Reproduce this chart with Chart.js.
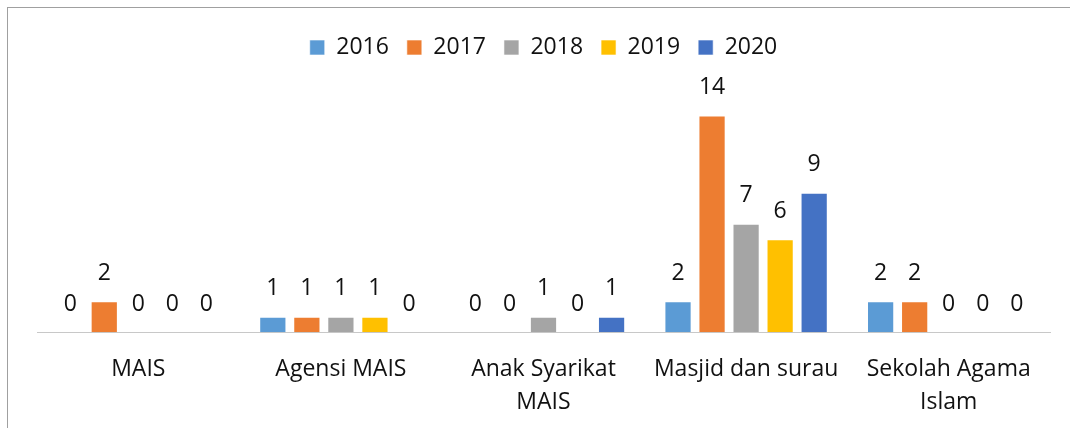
<!DOCTYPE html>
<html><head><meta charset="utf-8">
<script src="https://cdn.jsdelivr.net/npm/chart.js@4.4.1/dist/chart.umd.min.js"></script>
<style>html,body{margin:0;padding:0;background:#fff;}#wrap{width:1070px;height:428px;position:relative;}</style>
</head><body><div id="wrap"><canvas id="c" width="1070" height="428"></canvas></div>
<script>
const categories = ["MAIS", "Agensi MAIS", ["Anak Syarikat", "MAIS"], "Masjid dan surau", ["Sekolah Agama", "Islam"]];
const seriesNames = ["2016", "2017", "2018", "2019", "2020"];
const v2016 = [0, 1, 0, 2, 2];
const v2017 = [2, 1, 0, 14, 2];
const v2018 = [0, 1, 1, 7, 0];
const v2019 = [0, 1, 0, 6, 0];
const v2020 = [0, 0, 1, 9, 0];
const colors = ["#5B9BD5", "#ED7D31", "#A5A5A5", "#FFC000", "#4472C4"];
const seriesValues = [v2016, v2017, v2018, v2019, v2020];
const FONT = "'Open Sans', sans-serif";
const FS = 23;

const frame = {
  id: 'frame',
  beforeDraw(chart) {
    const ctx = chart.ctx;
    ctx.save();
    ctx.fillStyle = '#fff';
    ctx.fillRect(0, 0, chart.width, chart.height);
    ctx.strokeStyle = '#a0a0a0';
    ctx.lineWidth = 1;
    ctx.strokeRect(7.5, 7.5, 3000, 3000);
    ctx.restore();
  }
};
const labels = {
  id: 'vlabels',
  afterDatasetsDraw(chart) {
    const ctx = chart.ctx;
    ctx.save();
    ctx.font = FS + 'px ' + FONT;
    ctx.fillStyle = '#111';
    ctx.textAlign = 'center';
    ctx.textBaseline = 'middle';
    chart.data.datasets.forEach((ds, i) => {
      const meta = chart.getDatasetMeta(i);
      meta.data.forEach((el, j) => {
        ctx.fillText(String(ds.data[j]), el.x, el.y - 28);
      });
    });
    ctx.restore();
  }
};

new Chart(document.getElementById('c'), {
  type: 'bar',
  data: {
    labels: categories,
    datasets: seriesNames.map((n, i) => ({
      label: n,
      data: seriesValues[i],
      backgroundColor: colors[i],
      borderColor: 'rgba(255,255,255,0.6)',
      borderWidth: 1,
      categoryPercentage: 0.84,
      barPercentage: 0.8
    }))
  },
  options: {
    responsive: false,
    animation: false,
    layout: { padding: { left: 37, right: 20, top: 18, bottom: -4 } },
    plugins: {
      legend: {
        position: 'top',
        labels: { boxWidth: 15, boxHeight: 15, padding: 18, color: '#111', font: { family: FONT, size: FS } }
      },
      tooltip: { enabled: false }
    },
    scales: {
      y: { display: false, min: 0, max: 17 },
      x: {
        grid: { display: false },
        border: { display: true, color: '#c8c8c8', width: 1 },
        ticks: { color: '#111', padding: 13, maxRotation: 0, autoSkip: false, font: { family: FONT, size: FS, lineHeight: 1.43 } }
      }
    }
  },
  plugins: [frame, labels]
});
</script></body></html>
